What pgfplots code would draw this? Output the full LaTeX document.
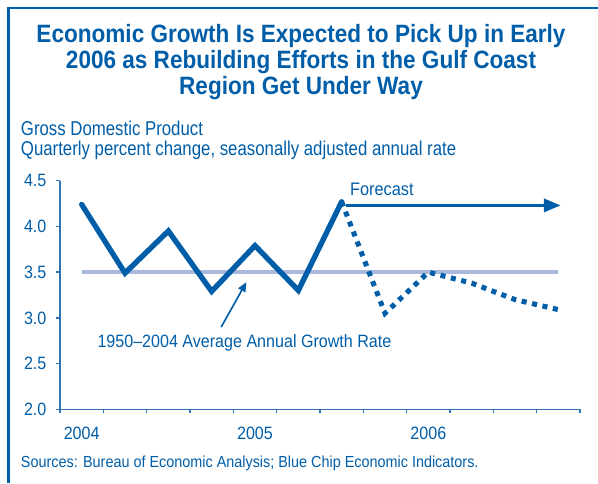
\documentclass[border=0pt]{standalone}
\usepackage{fontspec}
\setmainfont{Liberation Sans}[FakeStretch=0.84]
\newfontfamily\titlefont{Liberation Sans}[FakeStretch=0.90]
\newfontfamily\labfont{Liberation Sans}[FakeStretch=0.90]
\usepackage{pgfplots}
\pgfplotsset{compat=1.18}
\usetikzlibrary{arrows.meta}
\definecolor{dblue}{RGB}{0,93,168}
\definecolor{ablue}{RGB}{50,115,180}
\definecolor{avgc}{RGB}{171,184,222}
\begin{document}
\begin{tikzpicture}
\path[use as bounding box] (0,0) rectangle (448.5pt,-362.25pt);
\begin{scope}[x=0.75pt,y=-0.75pt]
\draw[dblue,line width=2pt] (7,8) -- (598,8);
\draw[dblue,line width=2pt] (8.7,7) -- (8.7,483);
\node[anchor=base,inner sep=0,text=dblue,font=\titlefont\bfseries\fontsize{18.8}{20}\selectfont] at (301,42.5) {Economic Growth Is Expected to Pick Up in Early};
\node[anchor=base,inner sep=0,text=dblue,font=\titlefont\bfseries\fontsize{18.8}{20}\selectfont] at (301,68.5) {2006 as Rebuilding Efforts in the Gulf Coast};
\node[anchor=base,inner sep=0,text=dblue,font=\titlefont\bfseries\fontsize{18.8}{20}\selectfont] at (301,94.7) {Region Get Under Way};
\node[anchor=base west,inner sep=0,text=dblue,font=\fontsize{15}{17}\selectfont] at (20.7,135.7) {Gross Domestic Product};
\node[anchor=base west,inner sep=0,text=dblue,font=\fontsize{15}{17}\selectfont] at (20.7,155.3) {Quarterly percent change, seasonally adjusted annual rate};
\node[anchor=base west,inner sep=0,text=dblue,font=\labfont\fontsize{12}{14}\selectfont] at (20.7,467.3) {Sources: Bureau of Economic Analysis; Blue Chip Economic Indicators.};
\end{scope}
\begin{axis}[
  at={(45pt,-306.975pt)}, anchor=south west,
  scale only axis, width=390pt, height=171.45pt,
  xmin=0, xmax=12, ymin=2, ymax=4.5,
  axis x line=bottom, axis y line=left,
  axis line style={-, ablue, line width=1.1pt},
  tick style={ablue, line width=1.1pt},
  tick align=outside, major tick length=3pt,
  xtick={0,1,...,12}, xticklabels={},
  extra x ticks={0.5,4.5,8.5},
  extra x tick labels={2004,2005,2006},
  extra x tick style={major tick length=0pt, xticklabel style={anchor=base, yshift=-22.5pt}},
  ytick={2,2.5,3,3.5,4,4.5},
  yticklabels={2.0,2.5,3.0,3.5,4.0,4.5},
  yticklabel style={anchor=east, inner sep=0pt, xshift=-7pt},
  ticklabel style={text=dblue, font=\labfont\fontsize{13.4}{15}\selectfont},
  /pgf/number format/assume math mode=true,
  clip=false,
]
\addplot[avgc, line width=3pt, forget plot] coordinates {(0.5,3.5) (11.5,3.5)};
\addplot[dblue, line width=4pt, line cap=round, line join=miter] coordinates {
(0.5,4.24) (1.5,3.49) (2.5,3.95) (3.5,3.29) (4.5,3.79) (5.5,3.30) (6.5,4.27)};
\addplot[dblue, line width=3.8pt, dash pattern=on 3.8pt off 4.2pt] coordinates {
(6.5,4.27) (7.5,3.05) (8.5,3.50) (9.5,3.38) (10.5,3.20) (11.5,3.09)};
\draw[dblue, line width=2pt, -{Triangle[length=12.5pt,width=10pt]}] (axis cs:6.6,4.23) -- (axis cs:11.55,4.23);
\node[anchor=base west, inner sep=0, text=dblue, font=\labfont\fontsize{13.6}{15}\selectfont] at (axis cs:6.69,4.336) {Forecast};
\draw[dblue, line width=1.2pt, -{Triangle[length=7pt,width=6pt]}] (axis cs:3.72,2.90) -- (axis cs:4.30,3.39);
\node[anchor=base west, inner sep=0, text=dblue, font=\labfont\fontsize{13.4}{15}\selectfont] at (axis cs:0.86,2.678) {1950–2004 Average Annual Growth Rate};
\end{axis}
\end{tikzpicture}
\end{document}
